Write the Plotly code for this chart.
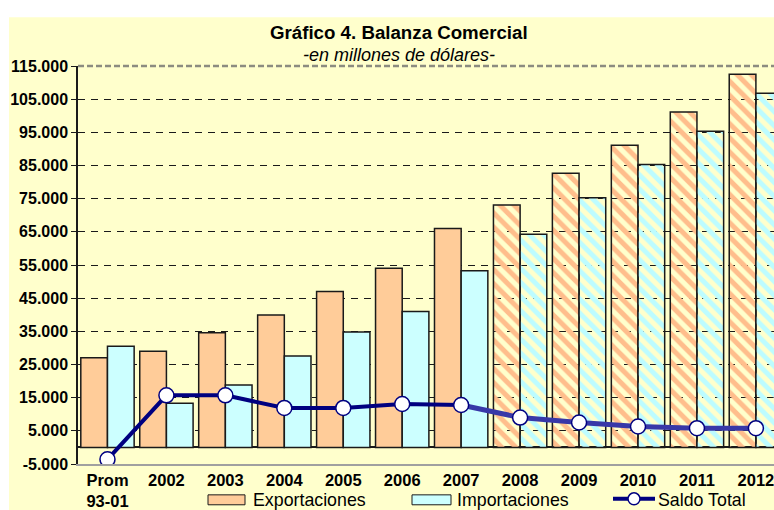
import plotly.graph_objects as go

# ---- data ----
categories = ["Prom<br>93-01", "2002", "2003", "2004", "2005", "2006", "2007",
              "2008", "2009", "2010", "2011", "2012"]
exportaciones = [27000, 29000, 34600, 39900, 47000, 54000, 66000,
                 73100, 82700, 91100, 101100, 112500]
importaciones = [30500, 13300, 18800, 27600, 34800, 41000, 53300,
                 64300, 75300, 85300, 95300, 106800]
saldo = [-3600, 15700, 15700, 11900, 11900, 13100, 12800,
         9000, 7500, 6300, 5800, 5800]
projected = [False] * 7 + [True] * 5
y_tickvals = [-5000, 5000, 15000, 25000, 35000, 45000, 55000, 65000,
              75000, 85000, 95000, 105000, 115000]
y_ticktext = ["-5.000", "5.000", "15.000", "25.000", "35.000", "45.000", "55.000",
              "65.000", "75.000", "85.000", "95.000", "105.000", "115.000"]

title_text = "Gráfico 4. Balanza Comercial"
subtitle_text = "-en millones de dólares-"
legend_names = ["Exportaciones", "Importaciones", "Saldo Total"]

# ---- style ----
W, H = 774, 510
ML, MR, MT, MB = 78, 0, 66, 44
PW, PH = W - ML - MR, H - MT - MB
FONT = "Liberation Sans, Arial, sans-serif"
ORANGE = "#FFCC99"
ORANGE_H = "#FFBE8C"
CYAN = "#CCFFFF"
CYAN_H = "#BDFCFF"
NAVY = "#000080"
NAVY_P = "#3838A8"
BG = "#FFFFCC"


def px(x):
    return (x - ML) / PW


def py(y):
    return (H - MB - y) / PH


fig = go.Figure()

exp_colors = [ORANGE_H if p else ORANGE for p in projected]
imp_colors = [CYAN_H if p else CYAN for p in projected]
shapes_pat = ["\\" if p else "" for p in projected]
whites = ["white"] * len(projected)

fig.add_trace(go.Bar(
    x=categories, y=exportaciones, name=legend_names[0],
    marker=dict(color=exp_colors, line=dict(color="#1a1a1a", width=1.5),
                pattern=dict(shape=shapes_pat, fgcolor=exp_colors, bgcolor=whites,
                             fgopacity=1, size=10, solidity=0.5, fillmode="replace")),
    showlegend=False,
))
fig.add_trace(go.Bar(
    x=categories, y=importaciones, name=legend_names[1],
    marker=dict(color=imp_colors, line=dict(color="#1a1a1a", width=1.5),
                pattern=dict(shape=shapes_pat, fgcolor=imp_colors, bgcolor=whites,
                             fgopacity=1, size=10, solidity=0.5, fillmode="replace")),
    showlegend=False,
))

n_real = projected.index(True)
fig.add_trace(go.Scatter(
    x=categories[n_real - 1:], y=saldo[n_real - 1:], mode="lines",
    line=dict(color=NAVY_P, width=5), showlegend=False,
))
fig.add_trace(go.Scatter(
    x=categories[:n_real], y=saldo[:n_real], mode="lines",
    line=dict(color=NAVY, width=4), showlegend=False,
))
fig.add_trace(go.Scatter(
    x=categories, y=saldo, mode="markers", name=legend_names[2],
    marker=dict(color="white", size=15, line=dict(color=NAVY, width=1.5)),
    showlegend=False,
))

shapes = [
    # yellow chart background
    dict(type="rect", xref="paper", yref="paper", x0=px(9), x1=1.05, y0=py(515), y1=py(17),
         fillcolor=BG, line=dict(width=0), layer="below"),
    # top border line
    dict(type="line", xref="paper", yref="paper", x0=0, x1=1, y0=1, y1=1,
         line=dict(color="#8c8c80", width=2.5, dash="6px,3px"), layer="above"),
    # legend swatches
    dict(type="rect", xref="paper", yref="paper", x0=px(208), x1=px(245), y0=py(507), y1=py(497),
         fillcolor=ORANGE, line=dict(color="#1a1a1a", width=1)),
    dict(type="rect", xref="paper", yref="paper", x0=px(412), x1=px(451), y0=py(507), y1=py(497),
         fillcolor=CYAN, line=dict(color="#1a1a1a", width=1)),
    dict(type="line", xref="paper", yref="paper", x0=px(613), x1=px(655), y0=py(501), y1=py(501),
         line=dict(color=NAVY, width=4)),
    dict(type="circle", xref="paper", yref="paper", x0=px(628), x1=px(640), y0=py(507), y1=py(495),
         fillcolor="white", line=dict(color=NAVY, width=1.5)),
]

annotations = [
    dict(text=title_text, xref="paper", yref="paper", x=px(398.5), y=py(32),
         xanchor="center", yanchor="middle", showarrow=False,
         font=dict(family=FONT, size=18.7, color="black", weight="bold")),
    dict(text="<i>" + subtitle_text + "</i>", xref="paper", yref="paper", x=px(398.5), y=py(55),
         xanchor="center", yanchor="middle", showarrow=False,
         font=dict(family=FONT, size=18, color="black")),
    dict(text=legend_names[0], xref="paper", yref="paper", x=px(251), y=py(502),
         xanchor="left", yanchor="middle", showarrow=False,
         font=dict(family=FONT, size=17.8, color="black")),
    dict(text=legend_names[1], xref="paper", yref="paper", x=px(455), y=py(502),
         xanchor="left", yanchor="middle", showarrow=False,
         font=dict(family=FONT, size=17.8, color="black")),
    dict(text=legend_names[2], xref="paper", yref="paper", x=px(656), y=py(502),
         xanchor="left", yanchor="middle", showarrow=False,
         font=dict(family=FONT, size=17.8, color="black")),
]

fig.update_layout(
    width=W, height=H,
    margin=dict(l=ML, r=MR, t=MT, b=MB, pad=0),
    paper_bgcolor="white", plot_bgcolor=BG,
    barmode="group", bargap=0.095, bargroupgap=0,
    font=dict(family=FONT, color="black"),
    shapes=shapes, annotations=annotations,
    showlegend=False,
    xaxis=dict(
        range=[-0.5, 11.307], showgrid=False, showline=True,
        linecolor="#a0a0a0", linewidth=2, ticks="",
        tickfont=dict(family=FONT, size=16.5, color="black", weight="bold"),
        fixedrange=True,
    ),
    yaxis=dict(
        range=[-5000, 115000], tickvals=y_tickvals, ticktext=y_ticktext,
        showgrid=True, gridcolor="#1a1a1a", gridwidth=1, griddash="7px,6px",
        zeroline=True, zerolinecolor="#1a1a1a", zerolinewidth=1.5,
        showline=True, linecolor="#1a1a1a", linewidth=1.5,
        ticks="outside", ticklen=5, tickcolor="#1a1a1a", tickwidth=1,
        tickfont=dict(family=FONT, size=16, color="black", weight="bold"),
        ticklabelstandoff=0,
        fixedrange=True,
    ),
)

# remove the browser's default page margin so the 774x510 figure fills the window
fig.write_html("out.html", config={"displayModeBar": False},
               post_script="document.body.style.margin='0';")
